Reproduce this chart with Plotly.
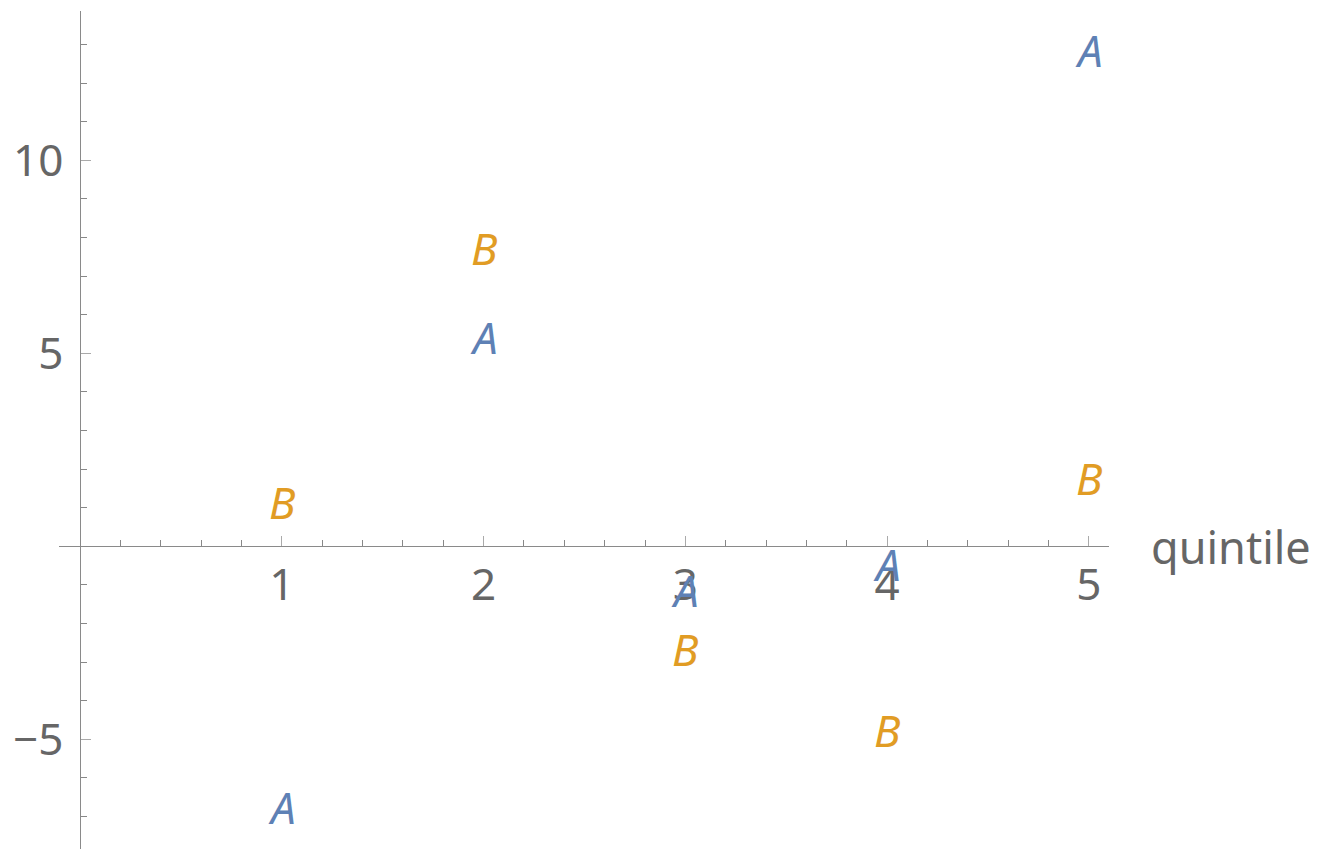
import plotly.graph_objects as go

# data
quintile = [1, 2, 3, 4, 5]
series_a = [-6.78, 5.41, -1.15, -0.48, 12.83]
series_b = [1.12, 7.71, -2.68, -4.78, 1.74]

x_range = [-0.105, 5.10]
y_range = [-7.84, 13.87]

blue = "#5E81B5"
orange = "#E19C24"
grey_text = "#666666"
axis_grey = "#8a8a8a"
font_family = "Noto Sans"

fig = go.Figure()

# invisible points so the axes exist; the letters below are the visible marks
fig.add_trace(go.Scatter(
    x=quintile * 2, y=series_a + series_b, mode="markers",
    marker=dict(opacity=0), hoverinfo="skip", showlegend=False,
))

# letters used as plot markers, centred on each point
for name, values, color in [("A", series_a, blue), ("B", series_b, orange)]:
    for xv, yv in zip(quintile, values):
        fig.add_annotation(
            x=xv, y=yv, xref="x", yref="y", text=name, showarrow=False,
            xanchor="center", yanchor="middle", yshift=1,
            font=dict(family=font_family, size=44, color=color, style="italic"),
        )

# axes cross at the origin, like Mathematica's default
x_pos = (0 - y_range[0]) / (y_range[1] - y_range[0])
y_pos = (0 - x_range[0]) / (x_range[1] - x_range[0])

fig.update_xaxes(
    range=x_range, anchor="free", position=x_pos,
    showgrid=False, zeroline=False,
    showline=True, linecolor=axis_grey, linewidth=1,
    ticks="inside", ticklen=10, tickcolor="#aaaaaa", tickwidth=1,
    tickvals=[1, 2, 3, 4, 5],
    tickfont=dict(family=font_family, size=44, color=grey_text),
    minor=dict(ticks="inside", ticklen=6, tickcolor="#888888", dtick=0.2, tick0=0, showgrid=False),
)
fig.update_yaxes(
    range=y_range, anchor="free", position=y_pos,
    showgrid=False, zeroline=False,
    showline=True, linecolor=axis_grey, linewidth=1,
    ticks="inside", ticklen=10, tickcolor="#aaaaaa", tickwidth=1,
    tickvals=[-5, 5, 10], ticktext=["\u22125", "5", "10"],
    ticklabelstandoff=8,
    tickfont=dict(family=font_family, size=44, color=grey_text),
    minor=dict(ticks="inside", ticklen=6, tickcolor="#888888", dtick=1, tick0=0, showgrid=False),
)

fig.add_annotation(
    x=x_range[1], y=0, xref="x", yref="y", text="quintile",
    showarrow=False, xanchor="left", yanchor="middle", xshift=40,
    font=dict(family=font_family, size=45, color=grey_text),
)

# page body adds an 8px offset, so margins are trimmed to compensate
fig.update_layout(
    width=1318, height=849,
    margin=dict(l=51, r=217, t=3, b=8),
    plot_bgcolor="white", paper_bgcolor="white",
)

fig.write_html("out.html")
